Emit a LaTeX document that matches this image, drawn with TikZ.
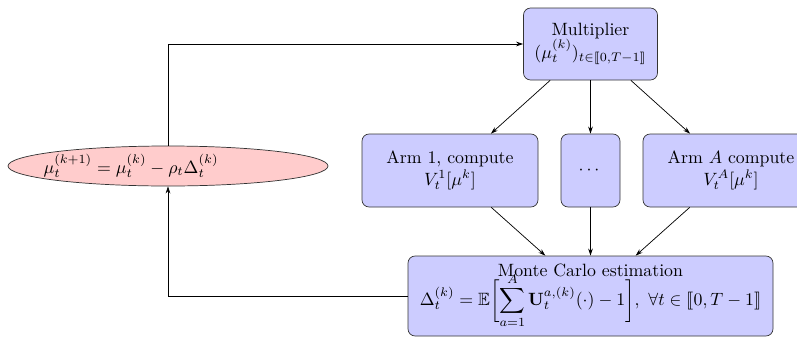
\documentclass[tikz,border=0pt]{standalone}
\usepackage{amsmath,amssymb,stmaryrd}
\usetikzlibrary{shapes.geometric,arrows.meta}
\begin{document}
\begin{tikzpicture}[x=0.5618pt,y=-0.5618pt,
  box/.style={draw=black!80,fill=blue!20,rounded corners=4pt,align=center,inner sep=1pt},
  ell/.style={draw=black!80,fill=red!20,ellipse,inner sep=0pt},
  lbl/.style={inner sep=0pt,anchor=base},
  conn/.style={-{Stealth[length=4pt,width=2.6pt]},black}]
\useasboundingbox (0,0) rectangle (797,337);
\clip (0,0) rectangle (797,337);
\node[box,minimum width=134*0.5618pt,minimum height=72*0.5618pt] (mult) at (590.5,44)
  {Multiplier\\[-1pt] $(\mu_t^{(k)})_{t\in\llbracket 0,T-1\rrbracket}$};
\node[box,minimum width=176*0.5618pt,minimum height=73*0.5618pt] (arm1) at (450,170.5)
  {Arm 1, compute\\ $V_t^1[\mu^k]$};
\node[box,minimum width=59*0.5618pt,minimum height=73*0.5618pt] (dots) at (590.5,170.5)
  {$\cdots$};
\node[box,minimum width=176*0.5618pt,minimum height=73*0.5618pt] (armA) at (731,170.5)
  {Arm $A$ compute\\ $V_t^A[\mu^k]$};
\node[box,minimum width=365*0.5618pt,minimum height=80*0.5618pt] (mc) at (590.5,296) {};
\node[lbl] (mctitle) at (590.5,276.5) {Monte Carlo estimation};
\node[lbl] (mcformula) at (590.5,305.5)
  {$\displaystyle \Delta_t^{(k)} = \mathbb{E}\biggl[\sum_{a=1}^{A}\mathbf{U}_t^{a,(k)}(\cdot)-1\biggr],\ \forall t\in\llbracket 0,T-1\rrbracket$};
\node[ell,minimum width=320*0.5618pt,minimum height=40*0.5618pt] (upd) at (168,166) {};
\node (updtext) at (131,166) {$\mu_t^{(k+1)} = \mu_t^{(k)} - \rho_t\Delta_t^{(k)}$};
\draw[conn] (mult) -- (arm1);
\draw[conn] (mult) -- (dots);
\draw[conn] (mult) -- (armA);
\draw[conn] (arm1) -- (mc);
\draw[conn] (dots) -- (mc);
\draw[conn] (armA) -- (mc);
\draw[conn] (upd.north) |- (mult.west);
\draw[conn] (mc.west) -| (upd.south);
\end{tikzpicture}
\end{document}
